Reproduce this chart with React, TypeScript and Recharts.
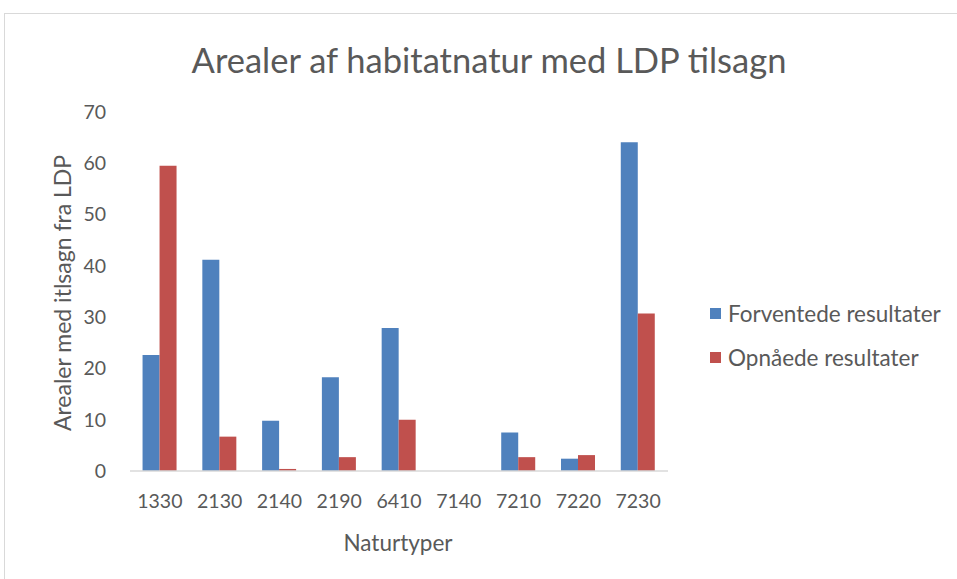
import { BarChart, Bar, XAxis, YAxis } from 'recharts';

const categories = ['1330', '2130', '2140', '2190', '6410', '7140', '7210', '7220', '7230'];
const forventede = [22.6, 41.2, 9.8, 18.3, 27.9, 0, 7.5, 2.4, 64.1];
const opnaaede = [59.5, 6.7, 0.4, 2.7, 10.0, 0, 2.7, 3.1, 30.7];
const yTicks = [0, 10, 20, 30, 40, 50, 60, 70];

const BLUE = '#4F81BD';
const RED = '#C0504D';
const TEXT = '#595959';
const FONT = 'Lato, "Open Sans", sans-serif';

const data = categories.map((c, i) => ({
  name: c,
  forventede: forventede[i],
  opnaaede: opnaaede[i],
}));

const legendItems = [
  { label: 'Forventede resultater', color: BLUE },
  { label: 'Opnåede resultater', color: RED },
];

function LegendBox() {
  return (
    <div
      style={{
        position: 'absolute',
        left: 710,
        top: 291,
        fontFamily: FONT,
        fontSize: 22.5,
        color: TEXT,
        whiteSpace: 'nowrap',
      }}
    >
      {legendItems.map((it) => (
        <div key={it.label} style={{ display: 'flex', alignItems: 'center', height: 44 }}>
          <span style={{ width: 11, height: 11, background: it.color, marginRight: 7 }} />
          <span>{it.label}</span>
        </div>
      ))}
    </div>
  );
}

export default function App() {
  return (
    <div
      style={{
        position: 'fixed',
        left: 0,
        top: 0,
        width: 957,
        height: 579,
        background: '#fff',
        overflow: 'hidden',
      }}
    >
      <div
        style={{
          position: 'absolute',
          left: 4,
          top: 13,
          right: 0,
          bottom: 0,
          borderLeft: '1px solid #d9d9d9',
          borderTop: '1px solid #d9d9d9',
        }}
      />
      <div
        style={{
          position: 'absolute',
          left: 489,
          top: 59,
          transform: 'translate(-50%, -50%)',
          whiteSpace: 'nowrap',
          fontFamily: FONT,
          fontSize: 34.5,
          color: TEXT,
        }}
      >
        Arealer af habitatnatur med LDP tilsagn
      </div>
      <div
        style={{
          position: 'absolute',
          left: 62,
          top: 293,
          transform: 'translate(-50%, -50%) rotate(-90deg)',
          whiteSpace: 'nowrap',
          fontFamily: FONT,
          fontSize: 23,
          color: TEXT,
        }}
      >
        Arealer med itlsagn fra LDP
      </div>
      <div
        style={{
          position: 'absolute',
          left: 398,
          top: 542,
          transform: 'translate(-50%, -50%)',
          whiteSpace: 'nowrap',
          fontFamily: FONT,
          fontSize: 22.5,
          color: TEXT,
        }}
      >
        Naturtyper
      </div>
      <LegendBox />
      <BarChart
        width={957}
        height={579}
        data={data}
        margin={{ top: 112, right: 289, bottom: 58, left: 70 }}
        barCategoryGap="21%"
        barGap={0}
      >
        <XAxis
          dataKey="name"
          tickLine={false}
          axisLine={{ stroke: '#d9d9d9', strokeWidth: 1.5 }}
          tickMargin={17}
          tick={{ fill: TEXT, fontSize: 19.5, fontFamily: FONT }}
          interval={0}
          height={50}
        />
        <YAxis
          width={60}
          domain={[0, 70]}
          ticks={yTicks}
          tickLine={false}
          axisLine={false}
          tickMargin={18}
          tick={{ fill: TEXT, fontSize: 19.5, fontFamily: FONT }}
        />
        <Bar dataKey="forventede" name="Forventede resultater" fill={BLUE} isAnimationActive={false} />
        <Bar dataKey="opnaaede" name="Opnåede resultater" fill={RED} isAnimationActive={false} />
      </BarChart>
    </div>
  );
}
